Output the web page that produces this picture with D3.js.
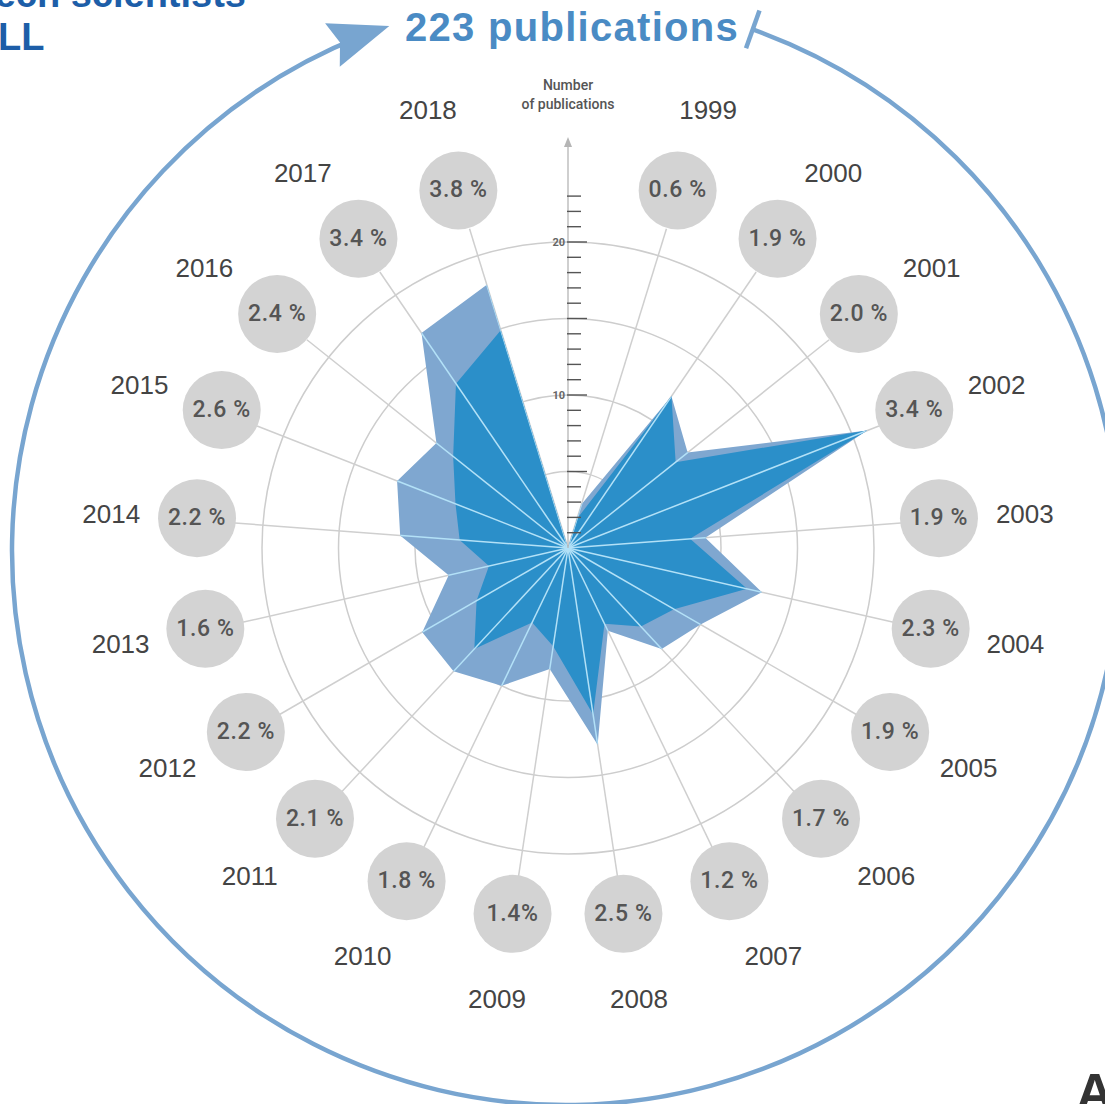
<!DOCTYPE html>
<html>
<head>
<meta charset="utf-8">
<script src="https://cdn.jsdelivr.net/npm/d3@7"></script>
<style>
  html, body { margin: 0; padding: 0; background: #fff; }
  svg { display: block; }
</style>
</head>
<body>
<div id="chart"></div>
<script>
// Publications per year, radar style (1999 - 2018)
const years = ["1999","2000","2001","2002","2003","2004","2005","2006","2007","2008",
               "2009","2010","2011","2012","2013","2014","2015","2016","2017","2018"];
// outer (light) polygon - all publications, sums to 223
const totalPubs = [3, 12, 10, 21, 9, 13, 10, 9, 6, 13, 8, 10, 11, 11, 8, 11, 12, 11, 17, 18];
// inner (dark) polygon
const innerPubs = [2, 12, 9, 21, 8, 12, 8, 7, 5.5, 11, 6.5, 5.4, 9, 6.9, 5.3, 7.1, 7.9, 9.6, 13, 14.9];
const shareLabels = ["0.6 %","1.9 %","2.0 %","3.4 %","1.9 %","2.3 %","1.9 %","1.7 %","1.2 %","2.5 %",
                     "1.4%","1.8 %","2.1 %","2.2 %","1.6 %","2.2 %","2.6 %","2.4 %","3.4 %","3.8 %"];
const gridValues = [5, 10, 15, 20];
const axisLabels = [10, 20];
const titleText = "223 publications";

const W = 1105, H = 1104;
const cx = 568, cy = 548;

const svg = d3.select("#chart").append("svg")
    .attr("width", W).attr("height", H);

// 21 slots around the circle, top one left free for the axis
const slot = 2 * Math.PI / 21;
const angle = d3.scalePoint().domain(years).range([slot, 20 * slot]);
const r = d3.scaleLinear().domain([0, 20]).range([0, 306]);

const g = svg.append("g").attr("transform", `translate(${cx},${cy})`);

// grid circles
g.selectAll(".grid").data(gridValues).enter().append("circle")
    .attr("r", d => r(d))
    .attr("fill", "none")
    .attr("stroke", "#cdcdcd")
    .attr("stroke-width", 1.5);

const spokeLen = 334;
const px = (a, rad) => rad * Math.sin(a);
const py = (a, rad) => -rad * Math.cos(a);

// grey spokes
g.selectAll(".spoke").data(years).enter().append("line")
    .attr("x1", 0).attr("y1", 0)
    .attr("x2", d => px(angle(d), spokeLen))
    .attr("y2", d => py(angle(d), spokeLen))
    .attr("stroke", "#cfcfcf")
    .attr("stroke-width", 1.5);

// polygons (center point closes the gap at the top)
const radial = d3.lineRadial()
    .angle(d => d.a)
    .radius(d => r(d.v))
    .curve(d3.curveLinearClosed);
const toPts = vals => [{a: 0, v: 0}].concat(years.map((y, i) => ({a: angle(y), v: vals[i]})));

g.append("path")
    .attr("d", radial(toPts(totalPubs)))
    .attr("fill", "#7fa7d0");
g.append("path")
    .attr("d", radial(toPts(innerPubs)))
    .attr("fill", "#2b8fc9");

// light spokes over the polygons
svg.append("defs").append("clipPath").attr("id", "polyClip")
    .append("path").attr("d", radial(toPts(totalPubs)));
g.append("g").attr("clip-path", "url(#polyClip)")
  .selectAll("line").data(years).enter().append("line")
    .attr("x1", 0).attr("y1", 0)
    .attr("x2", d => px(angle(d), spokeLen))
    .attr("y2", d => py(angle(d), spokeLen))
    .attr("stroke", "#b3e1f7")
    .attr("stroke-width", 1.5);

// vertical axis with ticks
const axisTop = 411;
g.append("line")
    .attr("x1", 0).attr("y1", 0).attr("x2", 0).attr("y2", -axisTop + 6)
    .attr("stroke", "#b5b5b5").attr("stroke-width", 1.3);
g.append("path")
    .attr("d", `M-4,${-axisTop + 10}L0,${-axisTop}L4,${-axisTop + 10}Z`)
    .attr("fill", "#b5b5b5");
const ticks = d3.range(1, 24);
g.selectAll(".tick").data(ticks).enter().append("line")
    .attr("x1", -1)
    .attr("x2", d => d % 5 === 0 ? 19 : 13)
    .attr("y1", d => -r(d)).attr("y2", d => -r(d))
    .attr("stroke", "#555")
    .attr("stroke-width", 1.4);
g.selectAll(".ticklabel").data(axisLabels).enter().append("text")
    .attr("x", -3).attr("y", d => -r(d) + 4)
    .attr("text-anchor", "end")
    .attr("font-family", "Roboto, sans-serif")
    .attr("font-weight", 700)
    .attr("font-size", 11)
    .attr("fill", "#666")
    .text(d => d);
g.append("text")
    .attr("text-anchor", "middle")
    .attr("font-family", "Roboto, sans-serif")
    .attr("font-weight", 500)
    .attr("font-size", 14)
    .attr("fill", "#555")
    .selectAll("tspan").data(["Number", "of publications"]).enter().append("tspan")
    .attr("x", 0)
    .attr("y", (d, i) => -458 + i * 19)
    .text(d => d);

// share circles
const bubbleR = 372;
const bub = g.selectAll(".bubble").data(years).enter().append("g")
    .attr("transform", d => `translate(${px(angle(d), bubbleR)},${py(angle(d), bubbleR) - 2})`);
bub.append("circle").attr("r", 39).attr("fill", "#d3d3d3");
bub.append("text")
    .attr("text-anchor", "middle")
    .attr("dy", "0.3em")
    .attr("font-family", "Roboto, sans-serif")
    .attr("font-weight", 500)
    .attr("font-size", 23)
    .attr("letter-spacing", 0.6)
    .attr("fill", "#555")
    .text((d, i) => shareLabels[i]);

// year labels: same ring, angles pulled a little toward the horizontal
const labelR = 458, squeeze = 0.96;
const labelAngle = a => Math.atan2(Math.sin(a), squeeze * Math.cos(a));
g.selectAll(".year").data(years).enter().append("text")
    .attr("x", d => px(labelAngle(angle(d)), labelR))
    .attr("y", d => py(labelAngle(angle(d)), labelR) - 2)
    .attr("text-anchor", "middle")
    .attr("dy", "0.36em")
    .attr("font-family", "'Liberation Sans', Arial, sans-serif")
    .attr("font-size", 26)
    .attr("fill", "#444")
    .text(d => d);

// big outer arc with arrow
const ringG = svg.append("g").attr("transform", "translate(566,551)");
const arcR = 554;
const deg = Math.PI / 180;
const a0 = 19.7 * deg, a1 = 341.4 * deg;   // clockwise from north
const arcColor = "#78a5d0";
const ring = d3.path();
ring.arc(0, 0, arcR, a0 - Math.PI / 2, a1 - 3 * deg - Math.PI / 2);
ringG.append("path").attr("d", ring.toString())
    .attr("fill", "none").attr("stroke", arcColor).attr("stroke-width", 4.5);

// tick at the start
ringG.append("line")
    .attr("x1", px(a0, arcR - 20)).attr("y1", py(a0, arcR - 20))
    .attr("x2", px(a0, arcR + 20)).attr("y2", py(a0, arcR + 20))
    .attr("stroke", arcColor).attr("stroke-width", 4.5);

// arrowhead at the end
const tip = [px(a1, arcR), py(a1, arcR)];
const tan = [Math.cos(a1), Math.sin(a1)];   // clockwise direction in screen coords
const nrm = [-tan[1], tan[0]];
const L = 60, Wd = 46;
const back = [tip[0] - L * tan[0], tip[1] - L * tan[1]];
ringG.append("path")
    .attr("d", `M${tip}L${back[0] + nrm[0] * Wd / 2},${back[1] + nrm[1] * Wd / 2}` +
               `L${back[0] + tan[0] * 8},${back[1] + tan[1] * 8}` +
               `L${back[0] - nrm[0] * Wd / 2},${back[1] - nrm[1] * Wd / 2}Z`)
    .attr("fill", arcColor);

// title
svg.append("text")
    .attr("x", 572).attr("y", 41)
    .attr("text-anchor", "middle")
    .attr("font-family", "'Liberation Sans', Arial, sans-serif")
    .attr("font-weight", 700)
    .attr("font-size", 40)
    .attr("letter-spacing", 1.3)
    .attr("fill", "#4a8bc4")
    .text(titleText);

// cropped page text at the corners
svg.append("text")
    .attr("x", 246).attr("y", 7)
    .attr("text-anchor", "end")
    .attr("font-family", "'Liberation Sans', Arial, sans-serif")
    .attr("font-weight", 700).attr("font-size", 38)
    .attr("fill", "#1d5ea8")
    .text("Tech scientists");
svg.append("text")
    .attr("x", -2).attr("y", 50)
    .attr("font-family", "'Liberation Sans', Arial, sans-serif")
    .attr("font-weight", 700).attr("font-size", 38)
    .attr("fill", "#1d5ea8")
    .text("LL");
svg.append("text")
    .attr("x", 1076).attr("y", 1110)
    .attr("font-family", "'Liberation Sans', Arial, sans-serif")
    .attr("font-weight", 700).attr("font-size", 52)
    .attr("fill", "#333")
    .text("A");
</script>
</body>
</html>
